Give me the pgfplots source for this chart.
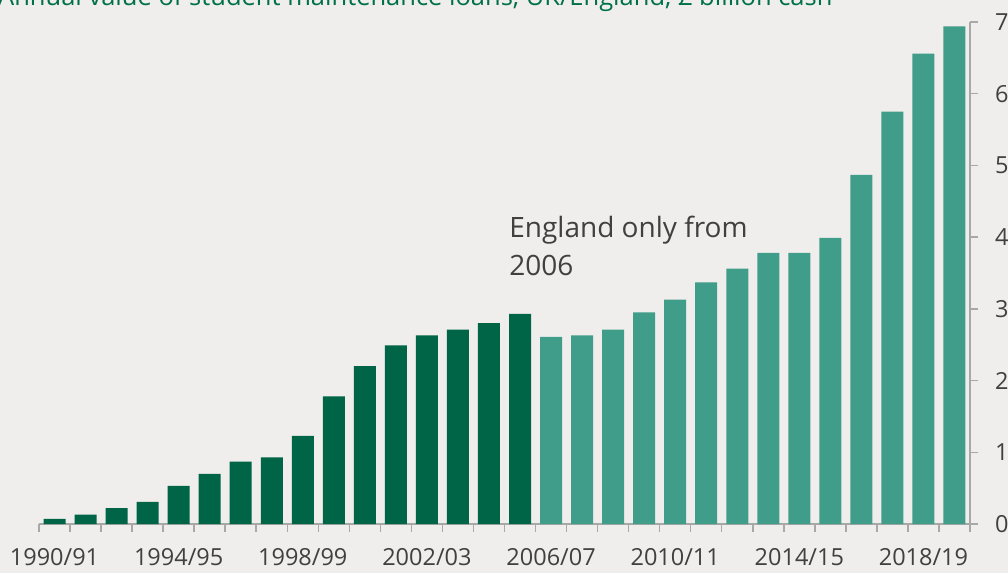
\documentclass[border=0pt]{standalone}
\usepackage{pgfplots}
\pgfplotsset{compat=1.18}
\usepackage{fontspec}
\setmainfont{Open Sans}
\definecolor{bg}{HTML}{EFEEEC}
\definecolor{dkgreen}{HTML}{006446}
\definecolor{tealc}{HTML}{409D89}
\definecolor{txt}{HTML}{404040}
\definecolor{axisgray}{HTML}{A8A8A8}
\definecolor{titlegreen}{HTML}{00704A}
\begin{document}
\begin{tikzpicture}
\fill[bg] (-39pt,-49pt) rectangle (969pt,524pt);
\useasboundingbox (-39pt,-49pt) rectangle (969pt,524pt);
\begin{axis}[
  at={(0,0)}, anchor=south west,
  scale only axis, width=931pt, height=502pt,
  xmin=-0.5, xmax=29.5, ymin=0, ymax=7,
  axis x line*=bottom, axis y line*=right,
  axis line style={draw=axisgray, line width=1.5pt},
  xtick={-0.5,0.5,...,29.5}, xticklabels={},
  extra x ticks={0,4,8,12,16,20,24,28},
  extra x tick labels={1990/91,1994/95,1998/99,2002/03,2006/07,2010/11,2014/15,2018/19},
  extra x tick style={major tick length=0pt, tick style={draw=none}},
  ytick={0,1,...,7},
  tick align=outside,
  major tick length=8pt,
  tick style={draw=axisgray, line width=1.5pt},
  /pgf/number format/assume math mode=true,
  xticklabel style={font=\fontsize{23.5}{28}\selectfont, text=txt, inner sep=0pt, anchor=north, yshift=-24pt},
  yticklabel style={font=\fontsize{23.5}{28}\selectfont, text=txt, inner sep=0pt, anchor=west, xshift=17pt},
  clip=false,
]
\addplot[ybar, bar width=22pt, bar shift=0pt, fill=dkgreen, draw=none] coordinates {
(0,0.07) (1,0.13) (2,0.22) (3,0.31) (4,0.53) (5,0.70) (6,0.87) (7,0.93)
(8,1.23) (9,1.78) (10,2.20) (11,2.49) (12,2.63) (13,2.71) (14,2.80) (15,2.93)};
\addplot[ybar, bar width=22pt, bar shift=0pt, fill=tealc, draw=none] coordinates {
(16,2.61) (17,2.63) (18,2.71) (19,2.95) (20,3.13) (21,3.37) (22,3.56) (23,3.78)
(24,3.78) (25,3.99) (26,4.87) (27,5.75) (28,6.56) (29,6.94)};
\node[anchor=base west, text=txt, font=\fontsize{28}{33}\selectfont, inner sep=0pt] at (axis cs:14.65,3.99) {England only from};
\node[anchor=base west, text=txt, font=\fontsize{28}{33}\selectfont, inner sep=0pt] at (axis cs:14.65,3.47) {2006};
\end{axis}
\node[anchor=base west, text=titlegreen, font=\fontsize{25.5}{30}\selectfont, inner sep=0pt] at (-41pt,518.5pt) {Annual value of student maintenance loans, UK/England, £ billion cash};
\end{tikzpicture}
\end{document}
